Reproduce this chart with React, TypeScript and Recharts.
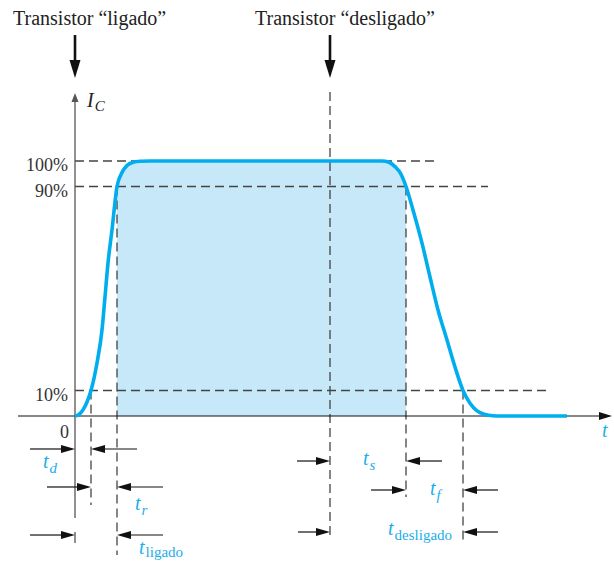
import React from "react";
import {
  ComposedChart,
  Line,
  Area,
  XAxis,
  YAxis,
  ReferenceLine,
  ReferenceDot,
} from "recharts";

// ---- data (time in arbitrary units, current in % of saturation) ----
const curveT = [0, 0.4, 0.8, 1.2, 1.6, 2.2, 2.7, 3.0, 3.3, 3.7, 4.2, 4.7, 5.2, 5.8, 6.5, 7.5, 30.7, 31.4, 32.0, 32.6, 33.1, 33.8, 34.7, 35.5, 36.3, 37.2, 38.0, 38.8, 39.5, 40.2, 41.0, 41.8, 42.5, 49.2];
const curveIc = [0, 0.6, 2.4, 5.5, 10, 20.8, 33.7, 46.7, 60, 73, 90, 95.5, 98.2, 99.5, 99.9, 100, 100, 99.5, 97.8, 94.8, 90, 80.8, 67.8, 54.5, 41.6, 29.8, 19.2, 10, 5.0, 2.0, 0.6, 0.1, 0, 0];
const levels = [100, 90, 10];
const levelLabels = ["100%", "90%", "10%"];
// t=0, end of t_d, end of t_r (t_ligado), "desligado" command, end of t_s, end of t_f
const markerTimes = [0, 1.6, 4.2, 25.5, 33.1, 38.8];
const titles = ["Transistor \u201cligado\u201d", "Transistor \u201cdesligado\u201d"];

const [T0, TD, TON, TCMD, TS, TF] = markerTimes;
const fillFrom = TON;
const fillTo = TS;

const chartData = curveT.map((t, i) => ({
  t,
  ic: curveIc[i],
  fill: t >= fillFrom - 1e-9 && t <= fillTo + 1e-9 ? curveIc[i] : null,
}));

const X_DOMAIN: [number, number] = [-7.5, 53.9];
const Y_DOMAIN: [number, number] = [-57.255, 163.137];

const CYAN = "#1aaee9";
const DASH = "#444";
const FONT = "'Liberation Serif', 'Times New Roman', serif";

const arrowShape = (color: string, width: number, headLen: number, headHalf: number) => (p: any) => {
  const { x1, y1, x2, y2 } = p;
  const dx = x2 - x1;
  const dy = y2 - y1;
  const len = Math.sqrt(dx * dx + dy * dy) || 1;
  const ux = dx / len;
  const uy = dy / len;
  const bx = x2 - ux * headLen;
  const by = y2 - uy * headLen;
  const px = -uy * headHalf;
  const py = ux * headHalf;
  return (
    <g>
      <line x1={x1} y1={y1} x2={bx + ux * 1} y2={by + uy * 1} stroke={color} strokeWidth={width} />
      <polygon points={`${x2},${y2} ${bx + px},${by + py} ${bx - px},${by - py}`} fill={color} />
    </g>
  );
};

const textShape = (content: React.ReactNode, opts: any = {}) => (p: any) => (
  <text
    x={p.cx}
    y={p.cy + (opts.dy || 0)}
    textAnchor={opts.anchor || "start"}
    fontFamily={FONT}
    fontSize={opts.size || 20}
    fill={opts.color || "#222"}
    fontStyle={opts.italic ? "italic" : "normal"}
  >
    {content}
  </text>
);

const sub = (main: string, s: string, subItalic: boolean, shift = 5) => (
  <>
    <tspan fontStyle="italic">{main}</tspan>
    <tspan dy={shift} dx={1} fontSize={15} fontStyle={subItalic ? "italic" : "normal"}>
      {s}
    </tspan>
  </>
);

// dimension arrows: [v, tailT, tipT]
const dimArrows: [number, number, number][] = [
  [-12.94, -4.5, T0], [-12.94, 6.2, TD],
  [-27.84, -2.8, TD], [-27.84, 8.8, TON],
  [-46.67, -4.5, T0], [-46.67, 8.8, TON],
  [-17.65, 22.2, TCMD], [-17.65, 36.7, TS],
  [-29.02, 29.6, TS], [-29.02, 42.3, TF],
  [-45.49, 22.3, TCMD], [-45.49, 42.3, TF],
];

// dashed guides: [t1, v1, t2, v2]
const dashed: [number, number, number, number][] = [
  [T0, levels[0], 36.1, levels[0]],
  [T0, levels[1], 41.3, levels[1]],
  [T0, levels[2], 47.3, levels[2]],
  [TD, levels[2], TD, -34.9],
  [TON, levels[1], TON, -54.5],
  [TCMD, 127.1, TCMD, -48.6],
  [TS, levels[1], TS, -31.8],
  [TF, levels[2], TF, -48.6],
];

export default function App() {
  return (
    <div style={{ position: "absolute", left: 0, top: 0, width: 614, height: 562, background: "#fff" }}>
      <ComposedChart width={614} height={562} data={chartData} margin={{ top: 0, right: 0, bottom: 0, left: 0 }}>
        <XAxis dataKey="t" type="number" domain={X_DOMAIN} allowDataOverflow hide />
        <YAxis type="number" domain={Y_DOMAIN} allowDataOverflow hide />

        <Area
          dataKey="fill"
          type="monotone"
          stroke="none"
          fill="#c6e8f8"
          fillOpacity={1}
          baseValue={0}
          connectNulls={false}
          isAnimationActive={false}
          dot={false}
          activeDot={false}
        />

        {dashed.map(([a, b, c, d], i) => (
          <ReferenceLine
            key={"d" + i}
            segment={[{ x: a, y: b }, { x: c, y: d }]}
            stroke={DASH}
            strokeWidth={1.3}
            strokeDasharray="9 5"
            ifOverflow="visible"
          />
        ))}

        {/* axes */}
        <ReferenceLine
          segment={[{ x: -5.7, y: 0 }, { x: 53.7, y: 0 }]}
          ifOverflow="visible"
          shape={arrowShape("#111", 1.2, 13, 4)}
        />
        <ReferenceLine
          segment={[{ x: T0, y: -40 }, { x: T0, y: 126.7 }]}
          ifOverflow="visible"
          shape={arrowShape("#555", 1.3, 9, 3.5)}
        />
        <ReferenceLine
          segment={[{ x: T0, y: -45.5 }, { x: T0, y: -49.8 }]}
          stroke="#555"
          strokeWidth={1.3}
          ifOverflow="visible"
        />

        <Line
          dataKey="ic"
          type="monotone"
          stroke="#00aeef"
          strokeWidth={3.6}
          dot={false}
          activeDot={false}
          isAnimationActive={false}
        />

        {/* command arrows */}
        <ReferenceLine
          segment={[{ x: T0, y: 149.4 }, { x: T0, y: 132.5 }]}
          ifOverflow="visible"
          shape={arrowShape("#111", 2.6, 18, 5.5)}
        />
        <ReferenceLine
          segment={[{ x: TCMD, y: 149.4 }, { x: TCMD, y: 132.5 }]}
          ifOverflow="visible"
          shape={arrowShape("#111", 2.6, 18, 5.5)}
        />

        {dimArrows.map(([v, a, b], i) => (
          <ReferenceLine
            key={"a" + i}
            segment={[{ x: a, y: v }, { x: b, y: v }]}
            ifOverflow="visible"
            shape={arrowShape("#111", 1.2, 14, 4)}
          />
        ))}

        {/* titles */}
        <ReferenceDot x={-6.2} y={153.33} ifOverflow="visible" shape={textShape(titles[0])} />
        <ReferenceDot x={18.0} y={153.33} ifOverflow="visible" shape={textShape(titles[1])} />

        {/* level labels */}
        {levels.map((lv, i) => (
          <ReferenceDot
            key={"l" + i}
            x={-0.7}
            y={lv}
            ifOverflow="visible"
            shape={textShape(levelLabels[i], { anchor: "end", dy: 10.5, size: 18, color: "#333" })}
          />
        ))}
        <ReferenceDot x={-0.6} y={0} ifOverflow="visible" shape={textShape("0", { anchor: "end", dy: 22, size: 18, color: "#333" })} />

        {/* axis labels */}
        <ReferenceDot
          x={1.2}
          y={121.2}
          ifOverflow="visible"
          shape={textShape(
            <>
              <tspan fontStyle="italic">I</tspan>
              <tspan dy={4} dx={1} fontSize={15} fontStyle="italic">C</tspan>
            </>,
            { color: "#222" }
          )}
        />
        <ReferenceDot x={52.7} y={-8.24} ifOverflow="visible" shape={textShape("t", { italic: true, color: CYAN })} />

        {/* time labels */}
        <ReferenceDot x={-3.2} y={-20.39} ifOverflow="visible" shape={textShape(sub("t", "d", true), { color: CYAN })} />
        <ReferenceDot x={6.0} y={-36.86} ifOverflow="visible" shape={textShape(sub("t", "r", true), { color: CYAN })} />
        <ReferenceDot x={6.4} y={-54.1} ifOverflow="visible" shape={textShape(sub("t", "ligado", false, 3), { color: CYAN })} />
        <ReferenceDot x={28.8} y={-19.2} ifOverflow="visible" shape={textShape(sub("t", "s", true), { color: CYAN })} />
        <ReferenceDot x={35.5} y={-30.98} ifOverflow="visible" shape={textShape(sub("t", "f", true), { color: CYAN })} />
        <ReferenceDot x={31.3} y={-46.67} ifOverflow="visible" shape={textShape(sub("t", "desligado", false), { color: CYAN })} />
      </ComposedChart>
    </div>
  );
}
